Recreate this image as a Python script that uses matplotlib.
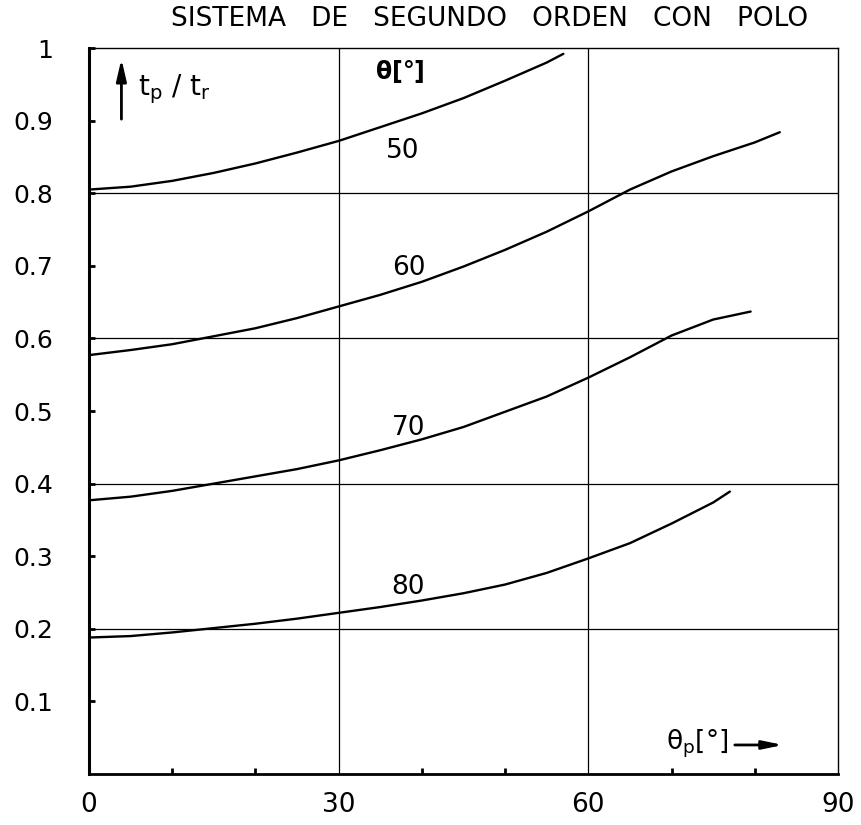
import numpy as np
import matplotlib
matplotlib.use('Agg')
import matplotlib.pyplot as plt

plt.rcParams['font.family'] = 'DejaVu Sans'
plt.rcParams['mathtext.default'] = 'regular'

# ── curve data: t_p/t_r versus theta_p, one curve per theta ──
theta_labels = ["50", "60", "70", "80"]

x_50 = [0, 5, 10, 15, 20, 25, 30, 35, 40, 45, 50, 55, 57]
y_50 = [0.805, 0.809, 0.817, 0.828, 0.841, 0.856, 0.872, 0.891, 0.910,
        0.931, 0.955, 0.980, 0.992]

x_60 = [0, 5, 10, 15, 20, 25, 30, 35, 40, 45, 50, 55, 60, 65, 70, 75, 80, 83]
y_60 = [0.577, 0.584, 0.592, 0.603, 0.614, 0.628, 0.644, 0.660, 0.678,
        0.699, 0.722, 0.747, 0.775, 0.805, 0.830, 0.851, 0.870, 0.884]

x_70 = [0, 5, 10, 15, 20, 25, 30, 35, 40, 45, 50, 55, 60, 65, 70, 75, 79.5]
y_70 = [0.377, 0.382, 0.390, 0.400, 0.410, 0.420, 0.432, 0.446, 0.461,
        0.478, 0.499, 0.520, 0.546, 0.574, 0.604, 0.626, 0.637]

x_80 = [0, 5, 10, 15, 20, 25, 30, 35, 40, 45, 50, 55, 60, 65, 70, 75, 77]
y_80 = [0.188, 0.190, 0.195, 0.201, 0.207, 0.214, 0.222, 0.230, 0.239,
        0.249, 0.261, 0.277, 0.297, 0.318, 0.345, 0.374, 0.389]

# where each theta label sits (data coords)
label_x = [37.7, 38.4, 38.4, 38.3]
label_y = [0.858, 0.697, 0.476, 0.258]

x_ticks = [0, 30, 60, 90]
x_minor = [10, 20, 40, 50, 70, 80]
y_ticks = [0.1, 0.2, 0.3, 0.4, 0.5, 0.6, 0.7, 0.8, 0.9, 1.0]
y_ticklabels = ["0.1", "0.2", "0.3", "0.4", "0.5", "0.6", "0.7", "0.8", "0.9", "1"]
grid_x = [30, 60]
grid_y = [0.2, 0.4, 0.6, 0.8]

fig = plt.figure(figsize=(8.62, 8.25), dpi=100)
ax = fig.add_axes([0.1032, 0.0618, 0.8690, 0.8800])
ax.set_xlim(0, 90)
ax.set_ylim(0, 1)

# grid
for gx in grid_x:
    ax.axvline(gx, color='black', lw=0.9, zorder=1)
for gy in grid_y:
    ax.axhline(gy, color='black', lw=0.9, zorder=1)

# curves
for xs, ys in [(x_50, y_50), (x_60, y_60), (x_70, y_70), (x_80, y_80)]:
    ax.plot(xs, ys, color='black', lw=1.7, solid_capstyle='round', zorder=3)

for lbl, lx, ly in zip(theta_labels, label_x, label_y):
    ax.text(lx, ly, lbl, fontsize=19, ha='center', va='center', zorder=4)

# spines
ax.spines['left'].set_linewidth(2.2)
ax.spines['bottom'].set_linewidth(2.0)
ax.spines['right'].set_linewidth(1.0)
ax.spines['top'].set_linewidth(1.0)

# ticks
ax.set_xticks(x_ticks)
ax.set_xticklabels([str(t) for t in x_ticks], fontsize=19)
ax.set_xticks(x_minor, minor=True)
ax.set_yticks(y_ticks)
ax.set_yticklabels(y_ticklabels, fontsize=18)
ax.tick_params(axis='x', which='major', length=0, pad=13)
ax.tick_params(axis='x', which='minor', direction='in', length=4, width=2)
ax.tick_params(axis='y', which='major', direction='in', length=4, width=2, pad=26)

# axis annotations
ax.annotate('', xy=(3.9, 0.985), xytext=(3.9, 0.902),
            arrowprops=dict(arrowstyle='-|>,head_length=1.3,head_width=0.3',
                            color='black', lw=2.0, shrinkA=0, shrinkB=0))
ax.text(5.9, 0.943, r'$t_p\ /\ t_r$', fontsize=20, ha='left', va='center')
ax.text(37.3, 0.968, r'$\theta$[°]', fontsize=17, ha='center', va='center',
        fontweight='bold')
ax.text(76.8, 0.042, r'$\theta_p$[°]', fontsize=19, ha='right', va='center')
ax.annotate('', xy=(83.4, 0.040), xytext=(77.6, 0.040),
            arrowprops=dict(arrowstyle='-|>,head_length=1.2,head_width=0.25',
                            color='black', lw=2.0, shrinkA=0, shrinkB=0))

fig.text(0.568, 0.977, 'SISTEMA   DE   SEGUNDO   ORDEN   CON   POLO',
         fontsize=19, ha='center', va='center')

fig.savefig('out.png', dpi=100, facecolor='white')
